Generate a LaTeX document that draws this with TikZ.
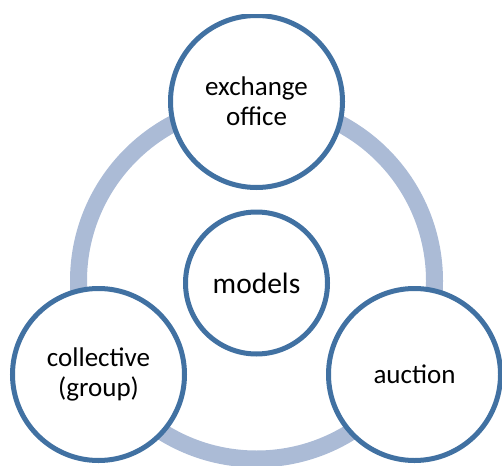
\documentclass[tikz,border=0pt]{standalone}
\usepackage{fontspec}
\setmainfont{Carlito}
\definecolor{ringblue}{RGB}{171,187,214}
\definecolor{edgeblue}{RGB}{65,113,162}
\tikzset{
  bubble/.style={circle, draw=edgeblue, line width=5pt, fill=white,
    inner sep=0pt, outer sep=0pt, align=center,
    font=\fontsize{27}{30}\selectfont},
  bigbubble/.style={bubble, minimum size=172pt},
  hubbubble/.style={bubble, minimum size=142pt, font=\fontsize{29.5}{32}\selectfont},
  loopring/.style={draw=ringblue, line width=17pt}
}
\begin{document}
\begin{tikzpicture}[x=1pt,y=-1pt]
  \useasboundingbox (0,0) rectangle (502,465);
  \clip (0,15) rectangle (502,465);
  % connecting ring behind the bubbles
  \coordinate (hubcentre) at (256.5,281);
  \draw[loopring] (hubcentre) circle[radius=178];
  % the four bubbles
  \node[hubbubble] (models) at (256.5,283) {models};
  \node[bigbubble] (exchange) at (256.5,101.5) {exchange\\office};
  \node[bigbubble] (collective) at (98.5,374.5) {collective\\(group)};
  \node[bigbubble] (auction) at (414.5,374.5) {auction};
\end{tikzpicture}
\end{document}
